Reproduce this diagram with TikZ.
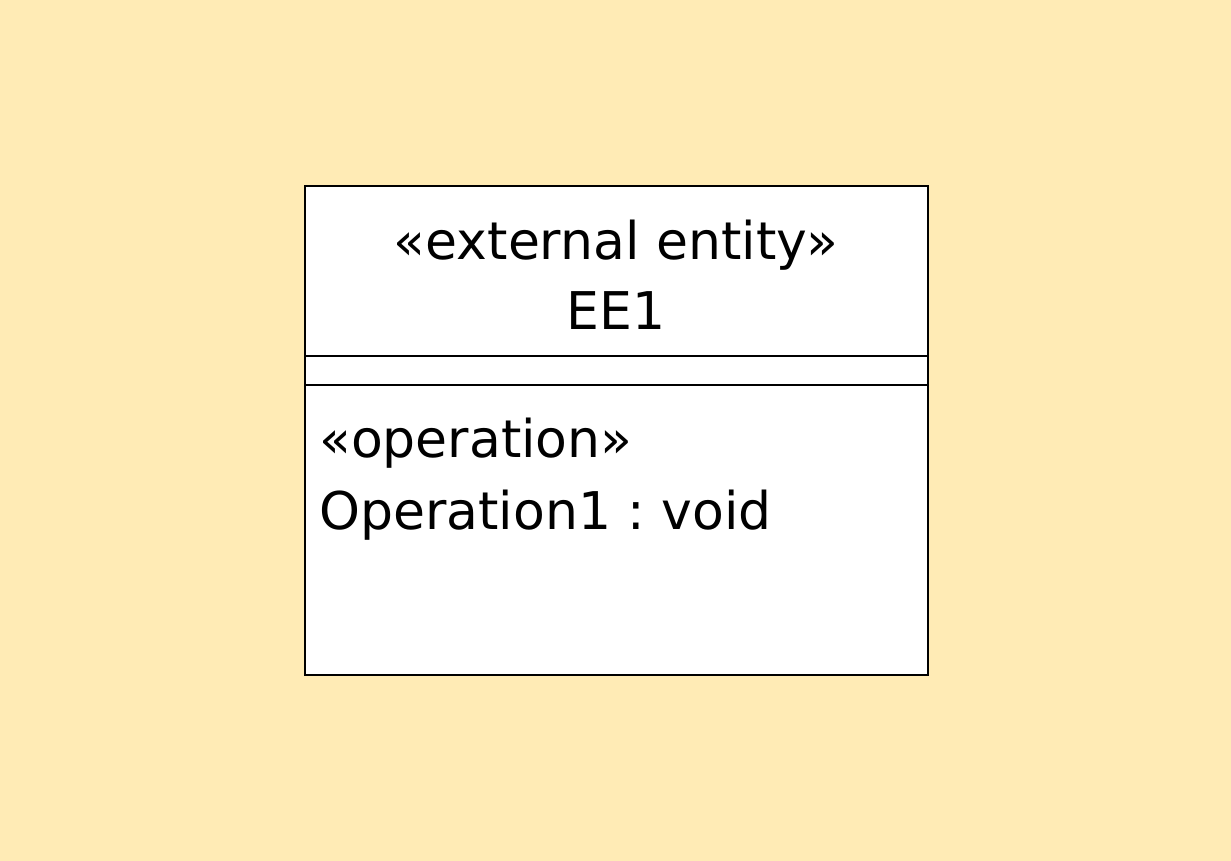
\documentclass[tikz,border=0pt]{standalone}
\usepackage{fontspec}
\setmainfont{DejaVu Sans}
\frenchspacing
\definecolor{bgc}{RGB}{255,235,181}
\begin{document}
\begin{tikzpicture}[x=1pt,y=-1pt,
  txt/.style={inner sep=0pt,font=\fontsize{52}{60}\selectfont},
  frame/.style={draw=black,line width=2pt}]
\fill[bgc] (0,0) rectangle (1231,861);
\useasboundingbox (0,0) rectangle (1231,861);
\node[frame,fill=white,minimum width=623pt,minimum height=489pt,anchor=north west,inner sep=0pt] (box) at (304,185) {};
\coordinate (l1w) at (304,356); \coordinate (l1e) at (927,356);
\coordinate (l2w) at (304,385); \coordinate (l2e) at (927,385);
\draw[frame] (l1w) -- (l1e);
\draw[frame] (l2w) -- (l2e);
\node[txt,anchor=base] (st) at (616,259) {«external entity»};
\node[txt,anchor=base] (nm) at (616,329) {EE1};
\node[txt,anchor=base west] (op1) at (319,457) {«operation»};
\node[txt,anchor=base west] (op2) at (319,529) {Operation1 : void};
\end{tikzpicture}
\end{document}
